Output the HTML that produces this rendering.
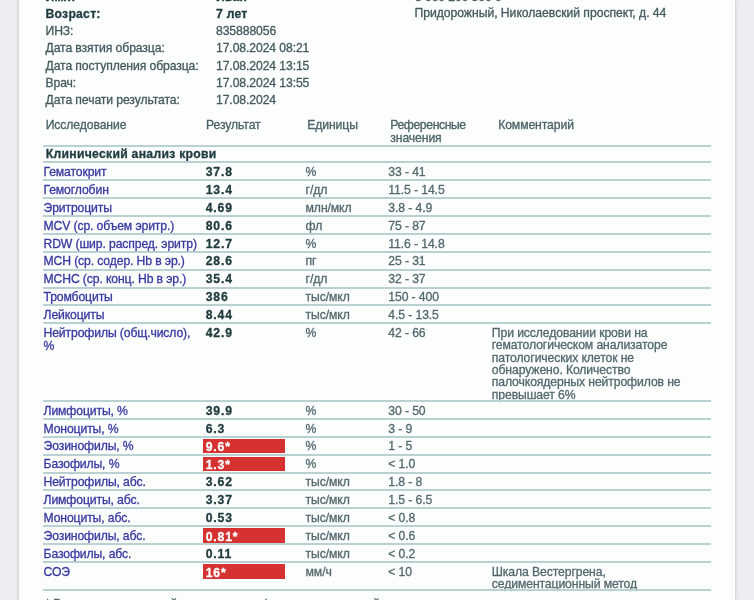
<!DOCTYPE html>
<html><head><meta charset="utf-8"><style>
html,body{margin:0;padding:0;}
body{width:754px;height:600px;position:relative;overflow:hidden;background:#ededf2;font-family:"Liberation Sans",sans-serif;}
#paper{position:absolute;left:18.5px;top:0;width:716.5px;height:600px;background:#fcfefe;box-shadow:-1px 0 3px rgba(0,0,0,0.13), 1px 0 3px rgba(0,0,0,0.11);}
.t{position:absolute;white-space:nowrap;font-size:12.2px;line-height:12px;letter-spacing:-0.1px;-webkit-text-stroke:0.3px currentColor;}
#wrap{position:absolute;left:0;top:0;width:754px;height:600px;will-change:transform;}
.hd{color:#43595c;}
.b{font-weight:bold;color:#1f3b3f;letter-spacing:0.25px;}
.sec{letter-spacing:0.28px;}
.th{color:#4a6266;}
.nm{color:#3838a0;letter-spacing:-0.12px;}
.res{font-weight:bold;color:#1f3a3c;letter-spacing:0.8px;}
.w{color:#fff;}
.un{color:#52686c;}
.red{position:absolute;background:#d63232;}
.ln{position:absolute;left:43px;width:668px;height:2px;background:#bad1d2;}
</style></head><body>
<div id="wrap"><div id="paper"></div>
<div class="t hd b" style="left:45.5px;top:-8.75px;">Имя:</div>
<div class="t hd b" style="left:216px;top:-8.75px;">Иван</div>
<div class="t hd b" style="left:45.5px;top:7.75px;">Возраст:</div>
<div class="t hd b" style="left:216px;top:7.75px;">7 лет</div>
<div class="t hd" style="left:45.5px;top:25.35px;">ИНЗ:</div>
<div class="t hd" style="left:216px;top:25.35px;">835888056</div>
<div class="t hd" style="left:45.5px;top:42.45px;">Дата взятия образца:</div>
<div class="t hd" style="left:216px;top:42.45px;">17.08.2024 08:21</div>
<div class="t hd" style="left:45.5px;top:59.55px;">Дата поступления образца:</div>
<div class="t hd" style="left:216px;top:59.55px;">17.08.2024 13:15</div>
<div class="t hd" style="left:45.5px;top:76.55px;">Врач:</div>
<div class="t hd" style="left:216px;top:76.55px;">17.08.2024 13:55</div>
<div class="t hd" style="left:45.5px;top:93.65px;">Дата печати результата:</div>
<div class="t hd" style="left:216px;top:93.65px;">17.08.2024</div>
<div class="t hd" style="left:415px;top:-9.25px;">8 900 200 300 0</div>
<div class="t hd" style="left:414.5px;top:6.95px;letter-spacing:-0.04px;">Придорожный, Николаевский проспект, д. 44</div>
<div class="t th" style="left:45.7px;top:119.25px;">Исследование</div>
<div class="t th" style="left:206px;top:119.25px;">Результат</div>
<div class="t th" style="left:307.2px;top:119.25px;">Единицы</div>
<div class="t th" style="left:390.3px;top:119.25px;letter-spacing:-0.4px;">Референсные</div>
<div class="t th" style="left:390.3px;top:132.45px;">значения</div>
<div class="t th" style="left:498.2px;top:119.25px;">Комментарий</div>
<div class="t hd b sec" style="left:45.8px;top:148.15px;">Клинический анализ крови</div>
<div class="t nm" style="left:43.5px;top:165.95px;">Гематокрит</div>
<div class="t res" style="left:205.8px;top:165.95px;">37.8</div>
<div class="t un" style="left:305.6px;top:165.95px;">%</div>
<div class="t un" style="left:388.3px;top:165.95px;">33 - 41</div>
<div class="t nm" style="left:43.5px;top:183.85px;">Гемоглобин</div>
<div class="t res" style="left:205.8px;top:183.85px;">13.4</div>
<div class="t un" style="left:305.6px;top:183.85px;">г/дл</div>
<div class="t un" style="left:388.3px;top:183.85px;">11.5 - 14.5</div>
<div class="t nm" style="left:43.5px;top:201.75px;">Эритроциты</div>
<div class="t res" style="left:205.8px;top:201.75px;">4.69</div>
<div class="t un" style="left:305.6px;top:201.75px;">млн/мкл</div>
<div class="t un" style="left:388.3px;top:201.75px;">3.8 - 4.9</div>
<div class="t nm" style="left:43.5px;top:219.65px;">MCV (ср. объем эритр.)</div>
<div class="t res" style="left:205.8px;top:219.65px;">80.6</div>
<div class="t un" style="left:305.6px;top:219.65px;">фл</div>
<div class="t un" style="left:388.3px;top:219.65px;">75 - 87</div>
<div class="t nm" style="left:43.5px;top:237.55px;">RDW (шир. распред. эритр)</div>
<div class="t res" style="left:205.8px;top:237.55px;">12.7</div>
<div class="t un" style="left:305.6px;top:237.55px;">%</div>
<div class="t un" style="left:388.3px;top:237.55px;">11.6 - 14.8</div>
<div class="t nm" style="left:43.5px;top:255.45px;">MCH (ср. содер. Hb в эр.)</div>
<div class="t res" style="left:205.8px;top:255.45px;">28.6</div>
<div class="t un" style="left:305.6px;top:255.45px;">пг</div>
<div class="t un" style="left:388.3px;top:255.45px;">25 - 31</div>
<div class="t nm" style="left:43.5px;top:273.35px;">MCHC (ср. конц. Hb в эр.)</div>
<div class="t res" style="left:205.8px;top:273.35px;">35.4</div>
<div class="t un" style="left:305.6px;top:273.35px;">г/дл</div>
<div class="t un" style="left:388.3px;top:273.35px;">32 - 37</div>
<div class="t nm" style="left:43.5px;top:291.25px;">Тромбоциты</div>
<div class="t res" style="left:205.8px;top:291.25px;">386</div>
<div class="t un" style="left:305.6px;top:291.25px;">тыс/мкл</div>
<div class="t un" style="left:388.3px;top:291.25px;">150 - 400</div>
<div class="t nm" style="left:43.5px;top:309.15px;">Лейкоциты</div>
<div class="t res" style="left:205.8px;top:309.15px;">8.44</div>
<div class="t un" style="left:305.6px;top:309.15px;">тыс/мкл</div>
<div class="t un" style="left:388.3px;top:309.15px;">4.5 - 13.5</div>
<div class="t nm" style="left:43.5px;top:327.05px;">Нейтрофилы (общ.число),</div>
<div class="t nm" style="left:43.5px;top:339.55px;">%</div>
<div class="t res" style="left:205.8px;top:327.05px;">42.9</div>
<div class="t un" style="left:305.6px;top:327.05px;">%</div>
<div class="t un" style="left:388.3px;top:327.05px;">42 - 66</div>
<div class="t un" style="left:491.8px;top:327.05px;">При исследовании крови на</div>
<div class="t un" style="left:491.8px;top:339.35px;">гематологическом анализаторе</div>
<div class="t un" style="left:491.8px;top:351.65px;">патологических клеток не</div>
<div class="t un" style="left:491.8px;top:363.95px;">обнаружено. Количество</div>
<div class="t un" style="left:491.8px;top:376.25px;">палочкоядерных нейтрофилов не</div>
<div class="t un" style="left:491.8px;top:388.55px;">превышает 6%</div>
<div class="t nm" style="left:43.5px;top:404.65px;">Лимфоциты, %</div>
<div class="t res" style="left:205.8px;top:404.65px;">39.9</div>
<div class="t un" style="left:305.6px;top:404.65px;">%</div>
<div class="t un" style="left:388.3px;top:404.65px;">30 - 50</div>
<div class="t nm" style="left:43.5px;top:422.55px;">Моноциты, %</div>
<div class="t res" style="left:205.8px;top:422.55px;">6.3</div>
<div class="t un" style="left:305.6px;top:422.55px;">%</div>
<div class="t un" style="left:388.3px;top:422.55px;">3 - 9</div>
<div class="t nm" style="left:43.5px;top:440.45px;">Эозинофилы, %</div>
<div class="red" style="left:203px;top:438.70px;width:82px;height:14.5px"></div>
<div class="t res w" style="left:205.8px;top:441.45px;">9.6*</div>
<div class="t un" style="left:305.6px;top:440.45px;">%</div>
<div class="t un" style="left:388.3px;top:440.45px;">1 - 5</div>
<div class="t nm" style="left:43.5px;top:458.35px;">Базофилы, %</div>
<div class="red" style="left:203px;top:456.60px;width:82px;height:14.5px"></div>
<div class="t res w" style="left:205.8px;top:459.35px;">1.3*</div>
<div class="t un" style="left:305.6px;top:458.35px;">%</div>
<div class="t un" style="left:388.3px;top:458.35px;">&lt; 1.0</div>
<div class="t nm" style="left:43.5px;top:476.25px;">Нейтрофилы, абс.</div>
<div class="t res" style="left:205.8px;top:476.25px;">3.62</div>
<div class="t un" style="left:305.6px;top:476.25px;">тыс/мкл</div>
<div class="t un" style="left:388.3px;top:476.25px;">1.8 - 8</div>
<div class="t nm" style="left:43.5px;top:494.15px;">Лимфоциты, абс.</div>
<div class="t res" style="left:205.8px;top:494.15px;">3.37</div>
<div class="t un" style="left:305.6px;top:494.15px;">тыс/мкл</div>
<div class="t un" style="left:388.3px;top:494.15px;">1.5 - 6.5</div>
<div class="t nm" style="left:43.5px;top:512.05px;">Моноциты, абс.</div>
<div class="t res" style="left:205.8px;top:512.05px;">0.53</div>
<div class="t un" style="left:305.6px;top:512.05px;">тыс/мкл</div>
<div class="t un" style="left:388.3px;top:512.05px;">&lt; 0.8</div>
<div class="t nm" style="left:43.5px;top:529.95px;">Эозинофилы, абс.</div>
<div class="red" style="left:203px;top:528.20px;width:82px;height:14.5px"></div>
<div class="t res w" style="left:205.8px;top:530.95px;">0.81*</div>
<div class="t un" style="left:305.6px;top:529.95px;">тыс/мкл</div>
<div class="t un" style="left:388.3px;top:529.95px;">&lt; 0.6</div>
<div class="t nm" style="left:43.5px;top:547.85px;">Базофилы, абс.</div>
<div class="t res" style="left:205.8px;top:547.85px;">0.11</div>
<div class="t un" style="left:305.6px;top:547.85px;">тыс/мкл</div>
<div class="t un" style="left:388.3px;top:547.85px;">&lt; 0.2</div>
<div class="t nm" style="left:43.5px;top:565.75px;">СОЭ</div>
<div class="red" style="left:203px;top:564.00px;width:82px;height:14.5px"></div>
<div class="t res w" style="left:205.8px;top:566.75px;">16*</div>
<div class="t un" style="left:305.6px;top:565.75px;">мм/ч</div>
<div class="t un" style="left:388.3px;top:565.75px;">&lt; 10</div>
<div class="t un" style="left:491.8px;top:565.75px;">Шкала Вестергрена,</div>
<div class="t un" style="left:491.8px;top:578.05px;">седиментационный метод</div>
<div class="ln" style="top:144.70px"></div>
<div class="ln" style="top:161.20px"></div>
<div class="ln" style="top:179.10px"></div>
<div class="ln" style="top:197.00px"></div>
<div class="ln" style="top:214.90px"></div>
<div class="ln" style="top:232.80px"></div>
<div class="ln" style="top:250.70px"></div>
<div class="ln" style="top:268.60px"></div>
<div class="ln" style="top:286.50px"></div>
<div class="ln" style="top:304.40px"></div>
<div class="ln" style="top:322.30px"></div>
<div class="ln" style="top:399.90px"></div>
<div class="ln" style="top:417.80px"></div>
<div class="ln" style="top:435.70px"></div>
<div class="ln" style="top:453.60px"></div>
<div class="ln" style="top:471.50px"></div>
<div class="ln" style="top:489.40px"></div>
<div class="ln" style="top:507.30px"></div>
<div class="ln" style="top:525.20px"></div>
<div class="ln" style="top:543.10px"></div>
<div class="ln" style="top:561.00px"></div>
<div class="ln" style="top:589.10px"></div>
<div class="t un" style="left:45.3px;top:597.75px;">* Результат, выходящий за пределы референсных значений</div>
</div></body></html>
